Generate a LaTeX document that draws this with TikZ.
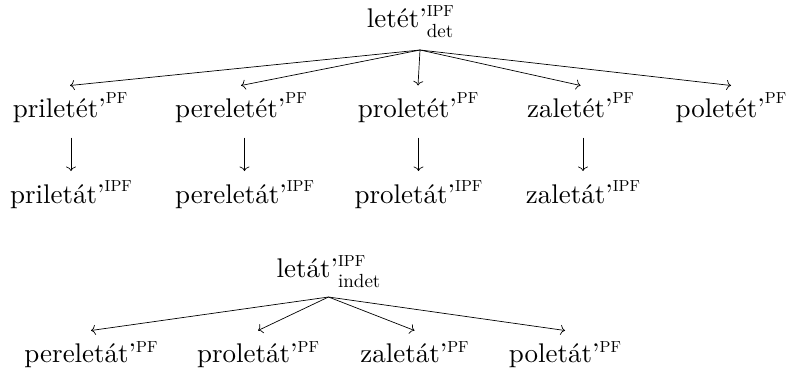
\documentclass[tikz,border=0pt]{standalone}
\usepackage{fontspec}
\setmainfont{lmroman10-regular.otf}
\usetikzlibrary{arrows.meta}
\newcommand{\mainsz}{\fontsize{27}{30}\selectfont}
\newcommand{\supsz}{\fontsize{16}{16}\selectfont}
\newcommand{\subsz}{\fontsize{19}{19}\selectfont}
\newcommand{\wsup}[3][14pt]{#2’\raisebox{#1}{\supsz #3}}
\newcommand{\wss}[3]{#1’\makebox[0pt][l]{\raisebox{11pt}{\supsz #2}}\raisebox{-10pt}{\subsz #3}}
\tikzset{
  w/.style={anchor=base, inner sep=6pt, outer sep=0pt, text height=26pt, text depth=14pt, font=\mainsz},
  arr/.style={-{Computer Modern Rightarrow[length=4.5pt,width=10pt]}, line width=0.7pt}
}
\begin{document}
\begin{tikzpicture}[x=1pt,y=-1pt]
\useasboundingbox (0,0) rectangle (791,375);
% first diagram
\node[w, text depth=17pt] (top) at (410,27) {\wss{letét}{IPF}{det}};
\node[w] (pri)  at (70,117.5)  {\wsup{priletét}{PF}};
\node[w] (pere) at (241,117.5) {\wsup{pereletét}{PF}};
\node[w] (prol) at (418,117.5) {\wsup{proletét}{PF}};
\node[w] (zal)  at (580.5,117.5) {\wsup{zaletét}{PF}};
\node[w] (pol)  at (731,117.5) {\wsup{poletét}{PF}};
\node[w] (pri2)  at (71,203)    {\wsup[12pt]{priletát}{IPF}};
\node[w] (pere2) at (244.5,203) {\wsup[12pt]{pereletát}{IPF}};
\node[w] (prol2) at (418.5,203) {\wsup[12pt]{proletát}{IPF}};
\node[w] (zal2)  at (583,203)   {\wsup[12pt]{zaletát}{IPF}};
\foreach \c in {pri,pere,prol,zal,pol}
  \draw[arr] ([xshift=10pt]top.south) -- (\c.north);
\foreach \a/\b in {pri/pri2,pere/pere2,prol/prol2,zal/zal2}
  \draw[arr] (\a.south -| \b.north) -- (\b.north);
% second diagram
\node[w] (top2) at (328.5,277) {\wss{letát}{IPF}{indet}};
\node[w] (pere3) at (91,362.5)   {\wsup[10pt]{pereletát}{PF}};
\node[w] (prol3) at (258,362.5)  {\wsup[10pt]{proletát}{PF}};
\node[w] (zal3)  at (414.5,362.5) {\wsup[10pt]{zaletát}{PF}};
\node[w] (pol3)  at (565,362.5)  {\wsup[10pt]{poletát}{PF}};
\foreach \c in {pere3,prol3,zal3,pol3}
  \draw[arr] (top2.south) -- (\c.north);
\end{tikzpicture}
\end{document}
